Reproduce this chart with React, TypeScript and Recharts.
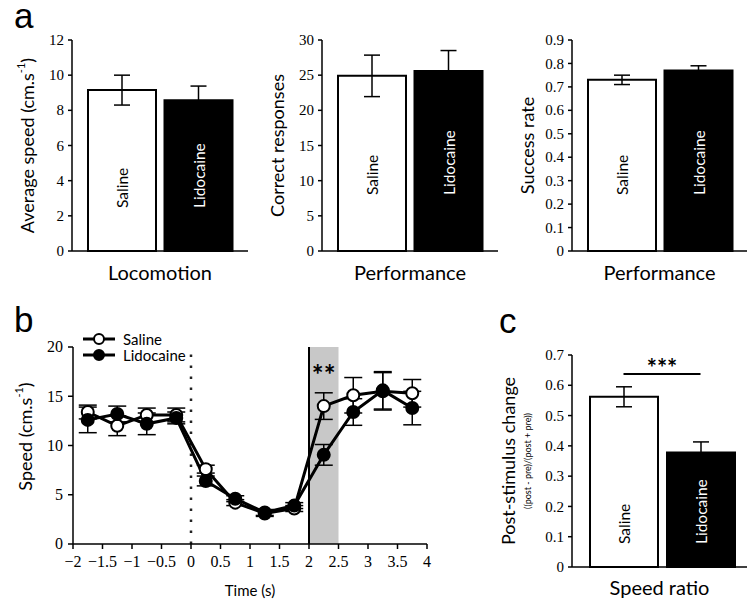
import React from 'react';
import {
  BarChart,
  Bar,
  Cell,
  XAxis,
  YAxis,
  ErrorBar,
  LabelList,
  Label,
  LineChart,
  Line,
  ReferenceLine,
  ReferenceArea,
  Legend,
} from 'recharts';

const SANS = 'Lato, "Open Sans", sans-serif';
const SERIF = '"Liberation Serif", "DejaVu Serif", serif';

// groups shared by every bar panel
const groups = ['Saline', 'Lidocaine'];
const groupFill = ['#ffffff', '#000000'];
const groupText = ['#000000', '#ffffff'];

// a - locomotion
const locoMean = [9.15, 8.58];
const locoErr = [0.85, 0.8];
const locoTicks = [0, 2, 4, 6, 8, 10, 12];

// a - correct responses
const correctMean = [24.9, 25.6];
const correctErr = [2.95, 2.9];
const correctTicks = [0, 5, 10, 15, 20, 25, 30];

// a - success rate
const successMean = [0.73, 0.77];
const successErr = [0.02, 0.02];
const successTicks = [0, 0.1, 0.2, 0.3, 0.4, 0.5, 0.6, 0.7, 0.8, 0.9];

// c - speed ratio
const ratioMean = [0.562, 0.378];
const ratioErr = [0.033, 0.035];
const ratioTicks = [0, 0.1, 0.2, 0.3, 0.4, 0.5, 0.6, 0.7];
const ratioSig = 0.637;

// b - speed time course
const times = [-1.75, -1.25, -0.75, -0.25, 0.25, 0.75, 1.25, 1.75, 2.25, 2.75, 3.25, 3.75];
const salineSpeed = [13.4, 12.0, 13.1, 13.1, 7.6, 4.2, 3.1, 3.6, 14.0, 15.1, 15.5, 15.3];
const salineSpeedErr = [0.7, 1.0, 0.7, 0.7, 0.4, 0.3, 0.3, 0.3, 1.35, 1.8, 1.9, 1.4];
const lidoSpeed = [12.6, 13.2, 12.2, 12.8, 6.4, 4.6, 3.2, 3.9, 9.05, 13.4, 15.6, 13.8];
const lidoSpeedErr = [1.3, 0.8, 1.1, 0.6, 0.5, 0.3, 0.3, 0.3, 1.05, 1.35, 1.9, 1.7];
const timeTicks = [-2, -1.5, -1, -0.5, 0, 0.5, 1, 1.5, 2, 2.5, 3, 3.5, 4];
const speedTicks = [0, 5, 10, 15, 20];

const axisLine = { stroke: '#000', strokeWidth: 1.5 };
const tickLine = { stroke: '#000', strokeWidth: 1.5 };

const toBars = (mean: number[], err: number[]) =>
  groups.map((name, i) => ({ name, value: mean[i], err: err[i] }));

const speedData = times.map((t, i) => ({
  t,
  saline: salineSpeed[i],
  salineErr: salineSpeedErr[i],
  lido: lidoSpeed[i],
  lidoErr: lidoSpeedErr[i],
}));

// serif tick labels, drawn by hand so the font is really applied
const serifTick = (side: 'x' | 'y', size: number) => (props: any) => {
  const { x, y, payload } = props;
  const txt = String(payload.value).replace('-', '\u2212');
  return (
    <text
      x={x}
      y={y}
      dy={side === 'y' ? '0.34em' : '0.72em'}
      textAnchor={side === 'y' ? 'end' : 'middle'}
      fontSize={size}
      fontFamily={SERIF}
      fill="#000"
    >
      {txt}
    </text>
  );
};

const barText = (base: number) => (props: any) => {
  const vb = props.x !== undefined ? props : props.viewBox;
  const cx = vb.x + vb.width / 2;
  const sy = vb.y + vb.height - base;
  const idx = groups.indexOf(props.value);
  return (
    <text
      x={cx}
      y={sy}
      transform={`rotate(-90 ${cx} ${sy})`}
      textAnchor="start"
      dominantBaseline="central"
      fill={groupText[idx]}
      fontSize={15.5}
      fontFamily={SANS}
    >
      {props.value}
    </text>
  );
};

const yTitle = (render: (x: number, y: number) => React.ReactNode, dx: number, dy = 0) => (p: any) => {
  const vb = p.viewBox;
  return render(vb.x + dx, vb.y + vb.height / 2 + dy);
};

const unitsTitle = (label: string, size: number) => (x: number, y: number) => (
  <text
    transform={`translate(${x},${y}) rotate(-90)`}
    textAnchor="middle"
    dominantBaseline="central"
    fontSize={size}
    fontFamily={SANS}
    fill="#000"
  >
    {label} (cm.s<tspan dy={-7} fontSize={11}>-1</tspan>
    <tspan dy={7}>)</tspan>
  </text>
);

const plainTitle = (label: string, size: number) => (x: number, y: number) => (
  <text
    transform={`translate(${x},${y}) rotate(-90)`}
    textAnchor="middle"
    dominantBaseline="central"
    fontSize={size}
    fontFamily={SANS}
    fill="#000"
  >
    {label}
  </text>
);

const ratioTitle = (x: number, y: number) => (
  <g>
    <text
      transform={`translate(${x},${y}) rotate(-90)`}
      textAnchor="middle"
      dominantBaseline="central"
      fontSize={18}
      fontFamily={SANS}
      fill="#000"
    >
      Post-stimulus change
    </text>
    <text
      transform={`translate(${x + 19},${y}) rotate(-90)`}
      textAnchor="middle"
      dominantBaseline="central"
      fontSize={9}
      fontFamily={SANS}
      fill="#000"
    >
      ((post - pre)/(post + pre))
    </text>
  </g>
);

const xTitle = (label: string, dy: number, size: number) => (p: any) => {
  const vb = p.viewBox;
  return (
    <text
      x={vb.x + vb.width / 2}
      y={vb.y + dy}
      textAnchor="middle"
      dominantBaseline="central"
      fontSize={size}
      fontFamily={SANS}
      fill="#000"
    >
      {label}
    </text>
  );
};

const starsText = (text: string, dy: number, size: number) => (p: any) => {
  const vb = p.viewBox || {};
  return (
    <text
      x={vb.x + (vb.width || 0) / 2}
      y={vb.y + dy}
      textAnchor="middle"
      fontSize={size}
      fontWeight={700}
      fontFamily={SANS}
      fill="#000"
    >
      {text}
    </text>
  );
};

type BarPanelProps = {
  left: number;
  top: number;
  width: number;
  height: number;
  marginTop: number;
  marginRight: number;
  yWidth: number;
  xHeight: number;
  mean: number[];
  err: number[];
  ticks: number[];
  yLabel: (p: any) => React.ReactNode;
  xLabel: string;
  xLabelDy: number;
  textBase: number;
  padLeft: number;
  padRight: number;
  children?: React.ReactNode;
};

function BarPanel(p: BarPanelProps) {
  return (
    <div style={{ position: 'absolute', left: p.left, top: p.top }}>
      <BarChart
        width={p.width}
        height={p.height}
        data={toBars(p.mean, p.err)}
        margin={{ top: p.marginTop, right: p.marginRight, bottom: 0, left: 0 }}
      >
        <XAxis
          dataKey="name"
          tick={false}
          tickLine={false}
          axisLine={axisLine}
          height={p.xHeight}
          padding={{ left: p.padLeft, right: p.padRight }}
        >
          <Label content={xTitle(p.xLabel, p.xLabelDy, 20)} />
        </XAxis>
        <YAxis
          width={p.yWidth}
          domain={[p.ticks[0], p.ticks[p.ticks.length - 1]]}
          ticks={p.ticks}
          interval={0}
          tick={serifTick('y', 15)}
          tickLine={tickLine}
          tickSize={4}
          tickMargin={4}
          axisLine={axisLine}
        >
          <Label content={p.yLabel} />
        </YAxis>
        {p.children}
        <Bar dataKey="value" barSize={68} stroke="#000" strokeWidth={2} isAnimationActive={false}>
          {groups.map((g, i) => (
            <Cell key={g} fill={groupFill[i]} />
          ))}
          <ErrorBar dataKey="err" width={8} stroke="#000" strokeWidth={1.5} />
          <LabelList dataKey="name" content={barText(p.textBase)} />
        </Bar>
      </BarChart>
    </div>
  );
}

const legendItems = [
  { label: 'Saline', fill: '#ffffff' },
  { label: 'Lidocaine', fill: '#000000' },
];

const renderLegend = () => (
  <svg width={130} height={34}>
    {legendItems.map((it, i) => {
      const y = 8 + i * 16;
      return (
        <g key={it.label}>
          <line x1={3} x2={35} y1={y} y2={y} stroke="#000" strokeWidth={3} />
          <circle cx={19} cy={y} r={5} fill={it.fill} stroke="#000" strokeWidth={2} />
          <text x={43} y={y} dominantBaseline="central" fontSize={15} fontFamily={SANS} fill="#000">
            {it.label}
          </text>
        </g>
      );
    })}
  </svg>
);

const letterStyle: React.CSSProperties = {
  position: 'absolute',
  fontFamily: '"Liberation Sans", Arial, sans-serif',
  fontSize: 35,
  lineHeight: '30px',
  color: '#000',
};

export default function App() {
  return (
    <div style={{ position: 'absolute', left: 0, top: 0, width: 747, height: 600, background: '#fff', overflow: 'hidden' }}>
      <div style={{ ...letterStyle, left: 14, top: 1 }}>a</div>
      <div style={{ ...letterStyle, left: 14, top: 305 }}>b</div>
      <div style={{ ...letterStyle, left: 499, top: 306 }}>c</div>

      <BarPanel
        left={0}
        top={0}
        width={250}
        height={290}
        marginTop={40}
        marginRight={2}
        yWidth={72}
        xHeight={39}
        mean={locoMean}
        err={locoErr}
        ticks={locoTicks}
        yLabel={yTitle(unitsTitle('Average speed', 18), 27)}
        xLabel="Locomotion"
        xLabelDy={21}
        textBase={43}
        padLeft={12}
        padRight={11}
      />
      <BarPanel
        left={250}
        top={0}
        width={250}
        height={290}
        marginTop={40}
        marginRight={2}
        yWidth={72}
        xHeight={39}
        mean={correctMean}
        err={correctErr}
        ticks={correctTicks}
        yLabel={yTitle(plainTitle('Correct responses', 18), 27)}
        xLabel="Performance"
        xLabelDy={21}
        textBase={56}
        padLeft={12}
        padRight={11}
      />
      <BarPanel
        left={500}
        top={0}
        width={247}
        height={290}
        marginTop={40}
        marginRight={0}
        yWidth={72}
        xHeight={39}
        mean={successMean}
        err={successErr}
        ticks={successTicks}
        yLabel={yTitle(plainTitle('Success rate', 18), 27)}
        xLabel="Performance"
        xLabelDy={21}
        textBase={56}
        padLeft={12}
        padRight={10}
      />
      <BarPanel
        left={480}
        top={300}
        width={267}
        height={300}
        marginTop={55}
        marginRight={0}
        yWidth={92}
        xHeight={33}
        mean={ratioMean}
        err={ratioErr}
        ticks={ratioTicks}
        yLabel={yTitle(ratioTitle, 28)}
        xLabel="Speed ratio"
        xLabelDy={20}
        textBase={23}
        padLeft={13}
        padRight={8}
      >
        <ReferenceLine
          segment={[
            { x: 'Saline', y: ratioSig },
            { x: 'Lidocaine', y: ratioSig },
          ]}
          stroke="#000"
          strokeWidth={2}
          label={starsText('***', 3, 24)}
        />
      </BarPanel>

      <div style={{ position: 'absolute', left: 0, top: 300 }}>
        <LineChart width={440} height={300} data={speedData} margin={{ top: 47, right: 13, bottom: 0, left: 0 }}>
          <ReferenceArea x1={2} x2={2.5} y1={0} y2={20} fill="#c8c8c8" fillOpacity={1} stroke="none" label={starsText('**', 38, 28)} />
          <ReferenceLine x={0} stroke="#222" strokeWidth={2.5} strokeDasharray="2.5 8.5" />
          <ReferenceLine x={2} stroke="#000" strokeWidth={2} />
          <XAxis
            dataKey="t"
            type="number"
            domain={[-2, 4]}
            ticks={timeTicks}
            interval={0}
            allowDataOverflow
            tick={serifTick('x', 16)}
            tickLine={tickLine}
            tickSize={5}
            tickMargin={6}
            axisLine={axisLine}
            height={56}
          >
            <Label content={xTitle('Time (s)', 46, 15)} />
          </XAxis>
          <YAxis
            width={73}
            domain={[0, 20]}
            ticks={speedTicks}
            interval={0}
            tick={serifTick('y', 16)}
            tickLine={tickLine}
            tickSize={5}
            tickMargin={5}
            axisLine={axisLine}
          >
            <Label content={yTitle(unitsTitle('Speed', 18), 25, -9)} />
          </YAxis>
          <Legend
            layout="horizontal"
            verticalAlign="middle"
            align="center"
            content={renderLegend}
            wrapperStyle={{ left: 80, top: 31, width: 130, height: 34 }}
          />
          <Line
            dataKey="saline"
            stroke="#000"
            strokeWidth={3}
            dot={{ r: 6, fill: '#fff', stroke: '#000', strokeWidth: 2 }}
            activeDot={false}
            isAnimationActive={false}
          >
            <ErrorBar dataKey="salineErr" width={9} stroke="#000" strokeWidth={1.5} direction="y" />
          </Line>
          <Line
            dataKey="lido"
            stroke="#000"
            strokeWidth={3}
            dot={{ r: 6, fill: '#000', stroke: '#000', strokeWidth: 2 }}
            activeDot={false}
            isAnimationActive={false}
          >
            <ErrorBar dataKey="lidoErr" width={9} stroke="#000" strokeWidth={1.5} direction="y" />
          </Line>
        </LineChart>
      </div>
    </div>
  );
}
